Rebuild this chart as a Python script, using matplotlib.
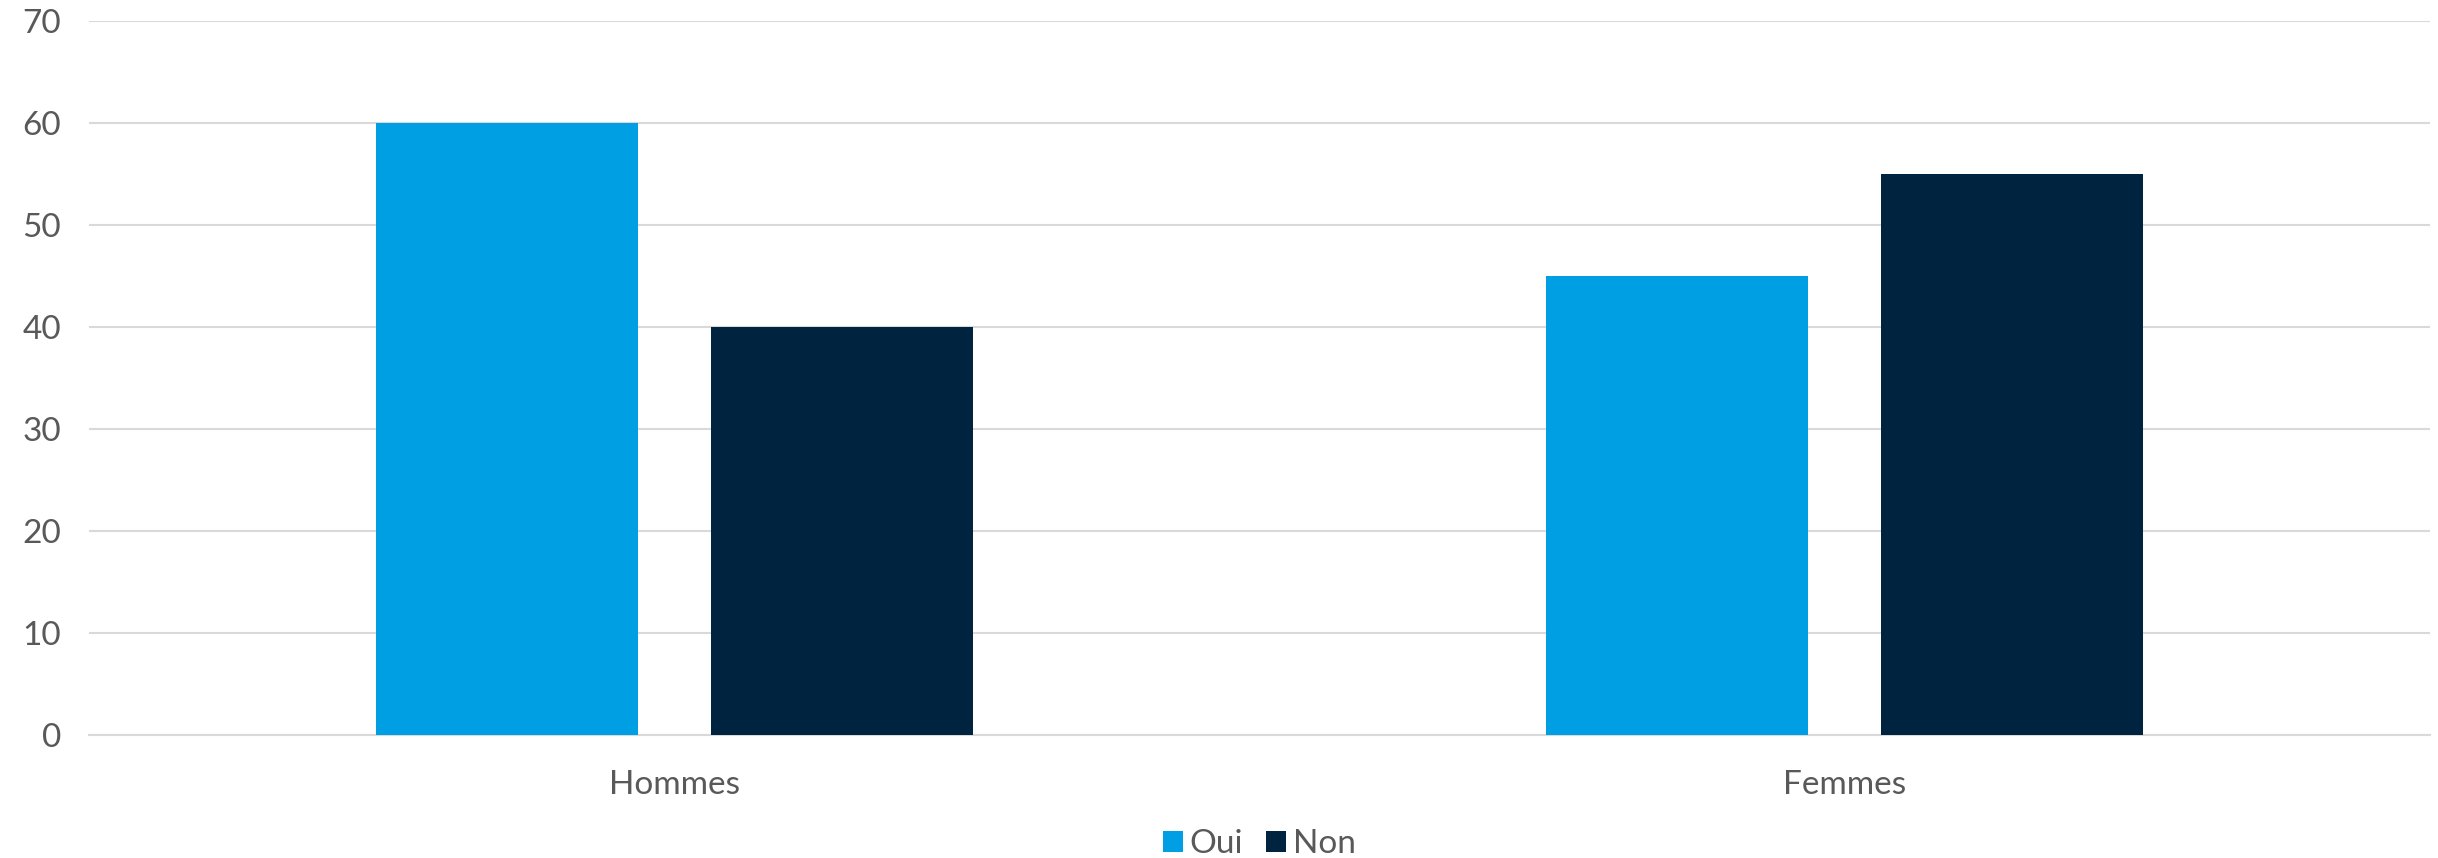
import numpy as np
import matplotlib.pyplot as plt
from matplotlib import font_manager

categories = ["Hommes", "Femmes"]
oui = [60, 45]
non = [40, 55]
y_ticks = [0, 10, 20, 30, 40, 50, 60, 70]

# pick a clean sans if it is there
names = {f.name for f in font_manager.fontManager.ttflist}
family = "Lato" if "Lato" in names else "DejaVu Sans"
plt.rcParams["font.family"] = [family, "DejaVu Sans"]

text_color = "#595959"
grid_color = "#d9d9d9"

fig = plt.figure(figsize=(24.38, 8.58), dpi=100)
ax = fig.add_axes([89 / 2438, 1 - 735 / 858, (2430 - 89) / 2438, (735 - 21) / 858])

x = np.arange(len(categories))
width = 0.224
offset = 0.143
ax.bar(x - offset, oui, width, color="#009FE3", label="Oui", zorder=3)
ax.bar(x + offset, non, width, color="#00233F", label="Non", zorder=3)

ax.set_xlim(-0.5, 1.5)
ax.set_ylim(0, 70)
ax.set_yticks(y_ticks)
ax.set_xticks(x)
ax.set_xticklabels(categories)
ax.yaxis.grid(True, color=grid_color, linewidth=1.5, zorder=0)
ax.set_axisbelow(True)

for s in ["top", "right", "left"]:
    ax.spines[s].set_visible(False)
ax.spines["bottom"].set_color(grid_color)
ax.spines["bottom"].set_linewidth(1.5)

ax.tick_params(axis="both", length=0, labelsize=24, labelcolor=text_color)
ax.tick_params(axis="y", pad=20)
ax.tick_params(axis="x", pad=25)

leg = ax.legend(loc="center", bbox_to_anchor=(0.5, (735 - 844) / (735 - 21)), ncol=2,
                frameon=False, handlelength=0.6, handleheight=0.6, handletextpad=0.2,
                columnspacing=0.7, prop={"size": 24})
for t in leg.get_texts():
    t.set_color(text_color)

fig.savefig("out.png", dpi=100)
